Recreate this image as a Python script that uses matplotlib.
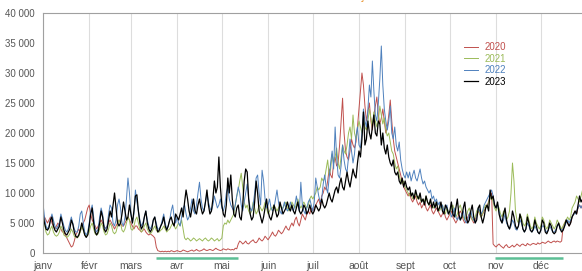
import matplotlib
matplotlib.use("Agg")
import matplotlib.pyplot as plt
import matplotlib.transforms as mtransforms
import numpy as np

# daily values, in thousands, day 0 = 1 January
y2020 = [
    6.5, 6.0, 5.5, 5.0, 5.5, 6.0, 5.0,
    4.5, 4.0, 4.5, 5.0, 4.5, 4.0, 3.5,
    3.5, 3.0, 2.5, 2.0, 1.5, 1.0, 1.2,
    2.0, 3.0, 3.5, 4.0, 3.5, 4.5, 5.0,
    5.5, 6.5, 7.5, 8.0, 6.5, 5.5, 5.0,
    4.5, 4.0, 4.5, 5.0, 5.5, 5.0, 4.5,
    4.0, 4.5, 5.0, 5.5, 5.0, 4.5, 4.0,
    4.5, 5.0, 5.5, 5.0, 4.5, 4.5, 5.0,
    5.5, 6.0, 5.5, 5.0, 4.5, 4.0, 4.5,
    4.5, 4.0, 3.8, 3.5, 3.8, 4.0, 3.5,
    3.2, 3.0, 3.2, 3.0, 2.8, 2.5, 1.0,
    0.4, 0.3, 0.2, 0.3, 0.2, 0.3, 0.2,
    0.3, 0.2, 0.4, 0.3, 0.2, 0.3, 0.4,
    0.3, 0.2, 0.3, 0.5, 0.4, 0.3, 0.2,
    0.3, 0.4, 0.5, 0.3, 0.4, 0.6, 0.4,
    0.3, 0.4, 0.5, 0.7, 0.5, 0.4, 0.5,
    0.6, 0.5, 0.4, 0.6, 0.8, 0.6, 0.5,
    0.4, 0.5, 0.7, 0.6, 0.5, 0.7, 0.6,
    0.5, 0.6, 0.5, 0.8, 0.7, 1.5, 2.0,
    1.8, 1.5, 1.7, 2.0, 1.6, 1.5, 1.8,
    2.0, 2.2, 1.8, 1.7, 2.0, 2.5, 2.2,
    2.0, 2.3, 2.8, 2.5, 2.2, 2.6, 3.0,
    3.5, 3.0, 2.8, 3.2, 3.8, 3.5, 3.2,
    3.5, 4.0, 4.5, 4.0, 3.8, 4.5, 5.0,
    4.5, 5.5, 6.0, 5.0, 4.5, 5.5, 6.5,
    6.0, 5.5, 6.5, 7.0, 6.5, 7.5, 7.0,
    7.5, 8.0, 8.5, 9.0, 8.0, 9.5, 10.0,
    11.0, 10.5, 12.0, 14.0, 13.0, 12.5, 15.0,
    16.0, 14.5, 15.0, 18.0, 22.0, 25.8, 20.0,
    17.0, 16.0, 15.5, 17.0, 19.0, 18.0, 17.5,
    18.5, 21.0, 24.0, 27.0, 30.0, 28.0, 24.5,
    22.0, 23.5, 25.0, 22.0, 20.5, 23.0, 24.5,
    26.0, 23.0, 21.5, 22.5, 24.0, 22.0, 20.0,
    21.0, 23.0, 25.5, 22.0, 19.0, 17.0, 16.0,
    15.0, 14.0, 13.0, 12.0, 11.0, 10.5, 10.0,
    9.5, 10.0, 9.0, 8.5, 9.0, 9.5, 8.5,
    8.0, 8.5, 7.5, 8.0, 8.5, 7.5, 7.0,
    7.5, 8.0, 7.0, 6.5, 7.0, 7.5, 7.0,
    6.5, 6.0, 6.5, 7.0, 6.0, 5.5, 6.0,
    6.5, 7.0, 6.0, 5.5, 5.0, 5.5, 6.5,
    7.0, 6.5, 5.5, 5.0, 5.5, 6.0, 6.5,
    6.0, 5.5, 5.0, 5.5, 6.5, 7.0, 6.5,
    6.0, 6.5, 7.0, 7.5, 8.0, 8.5, 9.5,
    10.0, 1.5, 1.2, 1.0, 1.3, 1.5, 1.2,
    1.0, 0.8, 1.2, 1.4, 1.0, 0.9, 1.1,
    1.3, 1.0, 1.2, 1.5, 1.3, 1.1, 1.4,
    1.5, 1.3, 1.2, 1.6, 1.4, 1.3, 1.5,
    1.6, 1.5, 1.4, 1.7, 1.5, 1.6, 1.8,
    1.7, 1.6, 1.8, 2.0, 1.8, 1.7, 1.9,
    2.0, 1.8, 2.0, 1.9, 1.8, 2.0, 4.5,
    5.0, 5.5, 5.0, 4.5, 5.0, 6.0, 6.5,
    7.0, 6.5, 7.5, 8.0, 7.5, 8.0, 8.5,
    8.0,
]

y2021 = [
    6.5, 5.0, 3.5, 3.0, 3.2, 4.0, 4.5,
    3.5, 3.0, 2.8, 3.0, 3.5, 4.5, 4.0,
    3.0, 2.8, 2.6, 2.8, 3.2, 4.0, 3.5,
    2.8, 2.6, 2.5, 2.8, 3.5, 4.5, 3.8,
    3.0, 2.8, 3.0, 3.5, 4.5, 5.0, 4.0,
    3.2, 3.0, 3.2, 4.0, 5.0, 4.5, 3.5,
    3.0, 3.2, 4.0, 5.0, 4.5, 3.5, 3.2,
    3.5, 4.5, 5.5, 5.0, 3.8, 3.5, 4.0,
    5.0, 6.0, 5.5, 4.0, 3.8, 4.5, 5.5,
    6.0, 5.0, 4.0, 3.5, 3.8, 4.5, 5.0,
    4.0, 3.5, 3.2, 3.5, 4.0, 4.5, 3.8,
    3.5, 3.5, 3.8, 4.0, 4.5, 4.0, 3.5,
    3.8, 4.0, 4.5, 5.0, 4.5, 4.0, 4.5,
    5.0, 4.5, 5.5, 4.0, 2.5, 2.2, 2.5,
    2.3, 2.0, 2.2, 2.5, 2.3, 2.0, 2.2,
    2.4, 2.2, 2.0, 2.3, 2.5, 2.2, 2.0,
    2.2, 2.5, 2.3, 2.0, 2.2, 2.4, 2.0,
    2.2, 2.5, 4.5, 5.0, 4.8, 5.5, 5.0,
    5.5, 6.0, 6.5, 8.0, 9.5, 10.5, 12.0,
    13.3, 11.0, 8.5, 7.5, 8.0, 7.0, 6.5,
    7.0, 8.5, 7.5, 6.5, 7.0, 8.0, 7.5,
    7.0, 7.5, 8.5, 7.5, 6.5, 7.0, 7.5,
    7.5, 8.0, 7.5, 7.0, 7.5, 8.0, 7.5,
    7.5, 8.0, 8.5, 7.5, 7.0, 7.5, 8.5,
    8.0, 7.5, 8.0, 9.0, 8.0, 7.5, 8.0,
    8.5, 8.0, 7.5, 8.0, 9.0, 9.5, 9.0,
    9.5, 10.0, 11.0, 10.5, 11.0, 12.5, 12.0,
    12.5, 14.0, 15.5, 13.0, 14.0, 16.5, 15.0,
    16.0, 17.5, 15.0, 14.0, 16.0, 18.0, 17.0,
    16.5, 18.0, 20.0, 21.0, 19.0, 23.0, 20.0,
    19.0, 20.5, 22.0, 21.0, 20.0, 22.5, 21.0,
    20.5, 22.0, 24.0, 22.5, 21.0, 23.5, 22.0,
    21.0, 22.0, 24.5, 23.0, 21.5, 22.5, 20.5,
    19.5, 20.0, 18.5, 17.0, 16.5, 15.0, 14.0,
    14.5, 13.0, 12.0, 11.5, 12.0, 11.0, 10.5,
    10.0, 9.5, 10.0, 9.0, 9.5, 10.0, 9.0,
    9.5, 9.0, 8.5, 9.0, 8.5, 9.5, 8.5,
    8.0, 8.5, 8.0, 7.5, 8.0, 8.5, 7.5,
    7.0, 7.5, 8.0, 7.0, 6.5, 7.5, 7.0,
    6.5, 7.5, 8.0, 7.0, 6.0, 6.5, 7.5,
    8.0, 7.0, 6.0, 5.5, 6.0, 7.0, 7.5,
    6.5, 5.5, 5.5, 6.0, 7.0, 7.5, 6.5,
    6.0, 6.5, 7.5, 8.0, 7.5, 8.5, 9.0,
    9.5, 8.5, 7.5, 7.0, 8.0, 7.5, 6.5,
    6.0, 7.0, 6.5, 5.5, 6.0, 7.0, 10.0,
    15.0, 12.0, 7.0, 5.5, 5.0, 6.5, 6.0,
    5.0, 4.5, 5.0, 6.5, 5.5, 4.5, 4.0,
    4.5, 6.0, 5.0, 4.5, 4.0, 4.5, 6.0,
    5.5, 4.5, 4.0, 4.5, 5.5, 5.0, 4.5,
    4.0, 4.5, 5.5, 5.0, 4.5, 4.0, 4.5,
    5.0, 5.5, 6.0, 5.5, 6.0, 7.5, 8.0,
    8.5, 9.5, 9.0, 8.5, 9.5, 10.5, 10.0,
    9.5,
]

y2022 = [
    8.3, 6.0, 4.5, 4.0, 4.5, 5.5, 6.5,
    5.5, 4.5, 4.0, 4.5, 5.0, 6.5, 5.5,
    4.5, 3.8, 3.5, 4.0, 5.0, 6.0, 5.0,
    4.0, 3.5, 3.5, 4.5, 6.5, 7.0, 5.0,
    3.5, 3.0, 3.5, 5.0, 7.0, 8.0, 6.0,
    4.0, 3.5, 4.0, 6.0, 7.5, 6.5, 4.5,
    4.0, 4.5, 6.5, 8.0, 7.5, 5.0, 4.5,
    5.5, 8.0, 9.0, 7.5, 5.0, 4.5, 6.0,
    9.0, 12.5, 10.0, 6.5, 5.0, 6.5, 10.5,
    8.5, 7.0, 5.5, 4.5, 5.0, 6.0, 7.0,
    5.5, 4.5, 4.0, 4.5, 5.5, 6.0, 5.0,
    4.0, 4.0, 4.5, 5.5, 6.5, 5.0, 4.0,
    4.5, 5.5, 7.0, 8.0, 6.0, 5.0, 6.0,
    5.0, 4.5, 6.0, 7.5, 8.0, 6.5, 5.5,
    6.0, 7.5, 9.0, 7.0, 6.5, 8.0, 10.0,
    11.8, 9.0, 7.5, 7.0, 8.5, 10.0, 8.5,
    7.5, 7.0, 8.0, 9.5, 8.5, 7.5, 8.0,
    9.0, 7.5, 7.0, 8.0, 10.0, 11.0, 9.0,
    8.0, 7.5, 7.0, 8.0, 9.5, 11.0, 10.0,
    8.0, 7.0, 8.5, 10.0, 11.5, 9.0, 7.5,
    7.0, 8.0, 10.0, 12.5, 13.0, 10.0, 8.0,
    13.8, 12.0, 9.0, 7.5, 8.0, 9.0, 7.5,
    7.0, 7.5, 9.0, 10.5, 8.5, 7.0, 6.5,
    7.5, 8.5, 7.5, 7.0, 7.5, 8.5, 7.5,
    7.0, 8.0, 9.5, 8.0, 7.0, 11.8, 8.0,
    7.0, 6.5, 7.5, 8.5, 9.0, 8.0, 7.0,
    8.5, 12.5, 11.0, 9.5, 8.5, 9.0, 11.5,
    13.0, 11.0, 10.0, 12.5, 15.0, 17.0, 14.0,
    21.0, 16.0, 13.0, 12.5, 14.5, 18.0, 15.5,
    14.0, 13.5, 16.0, 19.0, 17.0, 15.0, 16.5,
    19.5, 21.0, 18.0, 17.5, 20.0, 24.0, 22.0,
    21.0, 24.0, 28.0, 26.0, 32.0, 27.0, 23.0,
    22.0, 25.0, 29.0, 34.5, 28.0, 24.0, 22.0,
    20.5, 22.0, 24.5, 20.0, 19.0, 21.0, 18.0,
    17.0, 18.5, 15.5, 14.0, 13.0, 12.5, 13.5,
    12.5, 13.5, 12.0, 13.0, 13.8, 12.5, 12.0,
    13.0, 14.0, 12.5, 11.5, 12.0, 11.0, 10.5,
    10.0, 10.5, 9.0, 9.5, 8.5, 9.0, 8.0,
    8.5, 7.5, 8.0, 7.0, 7.5, 8.0, 6.5,
    7.0, 6.0, 6.5, 7.5, 6.0, 5.5, 6.0,
    5.5, 6.5, 7.0, 5.5, 5.0, 5.5, 6.5,
    7.0, 6.0, 5.5, 5.0, 6.0, 7.5, 7.0,
    6.5, 7.0, 8.0, 8.5, 9.0, 9.5, 10.0,
    10.5, 9.5, 8.0, 7.5, 8.0, 7.0, 6.0,
    5.0, 5.5, 6.5, 5.0, 4.5, 4.0, 4.5,
    5.5, 5.0, 4.0, 3.8, 4.5, 5.5, 5.0,
    4.0, 3.5, 4.0, 5.0, 4.5, 3.8, 3.5,
    3.8, 4.5, 4.0, 3.5, 3.2, 3.8, 4.5,
    4.5, 3.8, 3.5, 3.8, 4.5, 4.0, 3.5,
    3.5, 3.8, 4.5, 4.8, 4.0, 3.8, 4.0,
    4.5, 5.0, 5.5, 5.0, 5.5, 6.0, 6.5,
    6.5, 7.0, 7.5, 8.0, 7.5, 8.0, 9.0,
    8.5,
]

y2023 = [
    6.5, 5.0, 4.0, 3.8, 4.2, 5.5, 6.0,
    4.5, 3.8, 3.5, 4.0, 4.5, 6.0, 5.0,
    3.8, 3.2, 3.0, 3.5, 4.0, 5.5, 4.8,
    3.5, 2.8, 2.6, 3.0, 3.8, 5.0, 4.0,
    3.0, 2.6, 3.0, 4.5, 6.5, 7.5, 5.0,
    3.5, 3.0, 3.5, 5.0, 7.0, 6.0, 4.0,
    3.5, 4.0, 5.5, 7.0, 6.0, 8.0, 10.0,
    7.5, 5.0, 4.5, 5.0, 6.5, 8.5, 7.0,
    5.5, 6.0, 8.0, 6.5, 5.0, 7.0, 9.5,
    9.7, 7.0, 5.0, 4.0, 4.5, 6.0, 7.0,
    5.0, 4.0, 3.5, 4.0, 5.5, 6.0, 4.5,
    3.5, 3.8, 4.5, 5.0, 6.0, 4.5, 3.8,
    4.5, 5.5, 6.0, 5.0, 4.5, 6.5, 6.0,
    5.5, 6.5, 7.5, 6.0, 8.5, 10.5, 9.0,
    7.0, 6.0, 7.5, 9.0, 7.0, 6.5, 8.0,
    9.0, 7.5, 6.5, 7.0, 8.5, 10.5, 8.0,
    6.5, 7.0, 9.0, 12.0, 10.0, 11.0, 16.0,
    11.0, 8.0, 6.5, 6.0, 8.0, 12.5, 10.0,
    13.0, 9.0, 6.5, 6.0, 7.5, 8.0, 6.0,
    5.5, 8.0, 12.0, 14.0, 13.5, 9.0, 6.5,
    5.5, 6.0, 8.5, 12.0, 10.0, 7.0, 6.0,
    5.0, 6.0, 7.5, 9.0, 7.0, 6.0, 5.5,
    6.5, 8.0, 7.0, 6.0, 6.5, 8.5, 7.5,
    6.5, 7.0, 7.5, 8.5, 7.5, 7.0, 8.0,
    7.0, 6.5, 7.5, 8.5, 7.0, 6.5, 7.0,
    8.0, 7.5, 6.5, 7.0, 8.0, 7.0, 6.5,
    7.0, 8.0, 7.5, 7.0, 7.5, 9.0, 8.0,
    7.5, 8.0, 9.0, 10.0, 9.0, 8.5, 9.5,
    10.5, 11.0, 10.0, 11.5, 12.5, 11.0, 10.5,
    12.0, 13.5, 12.0, 11.0, 12.5, 14.0, 13.0,
    12.5, 15.0, 17.0, 16.0, 19.0, 23.5, 18.0,
    19.0, 22.0, 20.0, 19.0, 21.0, 23.0, 20.0,
    19.5, 22.0, 21.5, 18.0, 20.0, 17.5, 16.5,
    18.0, 16.0, 15.0, 14.5, 15.5, 13.5, 13.0,
    13.5, 12.0, 11.5, 12.5, 11.0, 12.0, 11.0,
    10.5, 11.0, 9.5, 10.0, 9.0, 10.5, 9.5,
    9.0, 10.0, 8.5, 9.0, 8.0, 9.5, 8.5,
    8.0, 9.0, 7.5, 8.5, 7.5, 8.5, 7.0,
    7.5, 8.5, 7.0, 6.5, 8.0, 7.5, 6.5,
    7.0, 8.5, 6.5, 6.0, 7.5, 9.0, 6.5,
    5.5, 6.0, 7.5, 8.5, 6.0, 5.0, 5.5,
    7.0, 8.0, 6.0, 5.0, 5.5, 7.5, 8.0,
    6.0, 5.0, 6.0, 7.5, 8.0, 7.0, 10.5,
    9.0, 9.5, 8.0, 7.5, 8.5, 6.5, 5.5,
    5.0, 6.5, 7.5, 5.5, 4.5, 4.0, 5.0,
    7.0, 6.0, 4.5, 4.0, 4.5, 6.5, 5.5,
    4.0, 3.5, 4.0, 6.0, 5.0, 3.8, 3.5,
    4.0, 5.5, 4.5, 3.5, 3.2, 3.8, 5.5,
    5.0, 3.5, 3.2, 3.8, 5.0, 4.5, 3.5,
    3.2, 3.5, 4.5, 5.0, 4.0, 3.5, 3.8,
    4.5, 5.5, 5.0, 4.5, 5.0, 6.0, 6.5,
    7.0, 6.5, 8.0, 9.5, 8.5, 9.0, 10.5,
    10.0,
]

years = ["2020", "2021", "2022", "2023"]
series = [y2020, y2021, y2022, y2023]
colors = ["#c0504d", "#9bbb59", "#4f81bd", "#000000"]
widths = [0.7, 0.7, 0.7, 0.9]

month_labels = ["janv", "févr", "mars", "avr", "mai", "juin",
                "juil", "août", "sept", "oct", "nov", "déc"]
month_start = [0, 31, 59, 90, 120, 151, 181, 212, 243, 273, 304, 334]
y_ticks = [0, 5000, 10000, 15000, 20000, 25000, 30000, 35000, 40000]
y_labels = ["0", "5 000", "10 000", "15 000", "20 000",
            "25 000", "30 000", "35 000", "40 000"]
# confinements (jour de l'année, début / fin)
lockdowns = [(76, 131), (303, 349)]

plt.rcParams["font.family"] = ["Liberation Sans", "DejaVu Sans"]

fig = plt.figure(figsize=(5.82, 2.71), dpi=100)
ax = fig.add_axes([43 / 582, 18 / 271, 544 / 582, 240 / 271])

for name, vals, c, lw in zip(years, series, colors, widths):
    days = np.arange(len(vals))
    ax.plot(days, np.array(vals) * 1000, color=c, lw=lw, label=name)

ax.set_xlim(0, 365)
ax.set_ylim(0, 40000)
ax.set_xticks(month_start)
ax.set_xticklabels(month_labels)
ax.set_yticks(y_ticks)
ax.set_yticklabels(y_labels)
ax.tick_params(axis="both", length=0, labelsize=7, colors="#555555")
ax.tick_params(axis="x", pad=6, labelsize=7.5)
ax.tick_params(axis="y", pad=6)
ax.grid(axis="x", color="#dddddd", lw=0.8)
ax.set_axisbelow(True)
for side in ["top", "left", "bottom"]:
    ax.spines[side].set_color("#a0a0a0")
    ax.spines[side].set_linewidth(0.8)
ax.spines["right"].set_visible(False)

trans = mtransforms.blended_transform_factory(ax.transData, ax.transAxes)
for start, end in lockdowns:
    ax.plot([start, end], [-0.022, -0.022], transform=trans, color="#5cbf95",
            lw=1.8, clip_on=False, solid_capstyle="butt")

leg = ax.legend(loc="upper left", bbox_to_anchor=(0.758, 0.915), frameon=False,
                fontsize=7, handlelength=1.4, handletextpad=0.7,
                labelspacing=0.15, labelcolor="linecolor")

fig.text(362 / 582, 1 + 1 / 271, "ç", color="#e8902a", fontsize=9,
         ha="center", va="baseline")

fig.savefig("out.png", dpi=100)
